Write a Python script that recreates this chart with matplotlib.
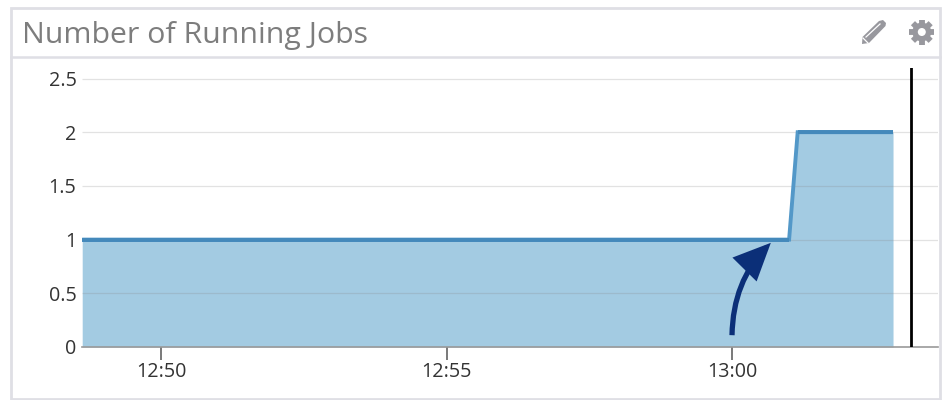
import numpy as np
import matplotlib
matplotlib.use("Agg")
import matplotlib.pyplot as plt
from matplotlib.patches import Rectangle, Polygon, Circle, FancyArrowPatch

# minutes after 12:50
times = [-1.38, 11.0, 11.15, 12.82]
jobs = [1, 1, 2, 2]
marker_time = 13.13
y_ticks = [0, 0.5, 1, 1.5, 2, 2.5]
y_labels = ["0", "0.5", "1", "1.5", "2", "2.5"]
x_ticks = [0, 5, 10]
x_labels = ["12:50", "12:55", "13:00"]
title = "Number of Running Jobs"

W, H = 952, 400
plt.rcParams["font.family"] = ["Open Sans", "DejaVu Sans"]

fig = plt.figure(figsize=(W / 100, H / 100), dpi=100)

# card background, in pixels
bg = fig.add_axes([0, 0, 1, 1])
bg.set_xlim(0, W)
bg.set_ylim(H, 0)
bg.axis("off")
bg.add_patch(Rectangle((11, 7.5), 929, 391, fill=False, ec="#dfdfe5", lw=2))
bg.plot([11, 940], [57, 57], color="#dfdfe5", lw=1.8)
bg.text(22.5, 35, title, fontsize=21.8, color="#7d7d7d", va="center", ha="left")

# pencil
pencil = np.array([[862, 44], [862.5, 37], [879, 21], [883, 20], [886, 23], [885.5, 26], [869, 43]])
bg.add_patch(Polygon(pencil, closed=True, color="#98989e", lw=0))
bg.plot([866, 880], [37, 24], color="white", lw=0.9)
bg.plot([863, 868], [38, 43], color="white", lw=0.9)

# gear
cx, cy = 921.8, 32
for a in np.arange(0, 360, 45):
    r = np.radians(a)
    bg.plot([cx, cx + 12.5 * np.cos(r)], [cy, cy + 12.5 * np.sin(r)],
            color="#98989e", lw=4.2, solid_capstyle="butt")
bg.add_patch(Circle((cx, cy), 9.5, color="#98989e", lw=0))
bg.add_patch(Circle((cx, cy), 4, color="white", lw=0, zorder=5))

# main plot
left, right, top, bottom = 82, 938, 68, 347
ax = fig.add_axes([left / W, 1 - bottom / H, (right - left) / W, (bottom - top) / H])
ax.patch.set_alpha(0)
px_per_min = 57.1
ax.set_xlim(-79 / px_per_min, (right - 161) / px_per_min)
ax.set_ylim(0, (bottom - top) / 107.4)

ax.fill_between(times, jobs, 0, color="#a3cbe2", lw=0, zorder=1)
ax.hlines(y_ticks[1:], ax.get_xlim()[0], ax.get_xlim()[1], color="#888888", alpha=0.24, lw=0.9, zorder=2)
ax.plot(times, jobs, color="#5398c8", lw=2.8, solid_joinstyle="miter", solid_capstyle="butt", zorder=3)
ax.plot(times[:2], jobs[:2], color="#4489bb", lw=2.8, solid_capstyle="butt", zorder=3)
ax.plot(times[2:], jobs[2:], color="#4489bb", lw=2.8, solid_capstyle="butt", zorder=3)
ax.axvline(marker_time, color="black", lw=2, zorder=4)

arrow = FancyArrowPatch((10.0, 0.11), (10.68, 0.97), connectionstyle="arc3,rad=-0.2",
                        arrowstyle="-|>,head_length=6.4,head_width=2.9", mutation_scale=3.2,
                        color="#0b2f78", lw=3.8, capstyle="butt", joinstyle="miter",
                        zorder=5, shrinkA=0, shrinkB=0)
ax.add_patch(arrow)

ax.set_yticks(y_ticks, y_labels)
ax.set_xticks(x_ticks, x_labels)
ax.tick_params(axis="y", length=0, pad=4, labelsize=14.2, labelcolor="#333333")
ax.tick_params(axis="x", length=9, width=1.1, color="#555555", pad=2, labelsize=14.2, labelcolor="#333333")
for s in ["top", "right", "left"]:
    ax.spines[s].set_visible(False)
ax.spines["bottom"].set_color("#999999")
ax.spines["bottom"].set_linewidth(1.2)

fig.savefig("out.png", dpi=100)
